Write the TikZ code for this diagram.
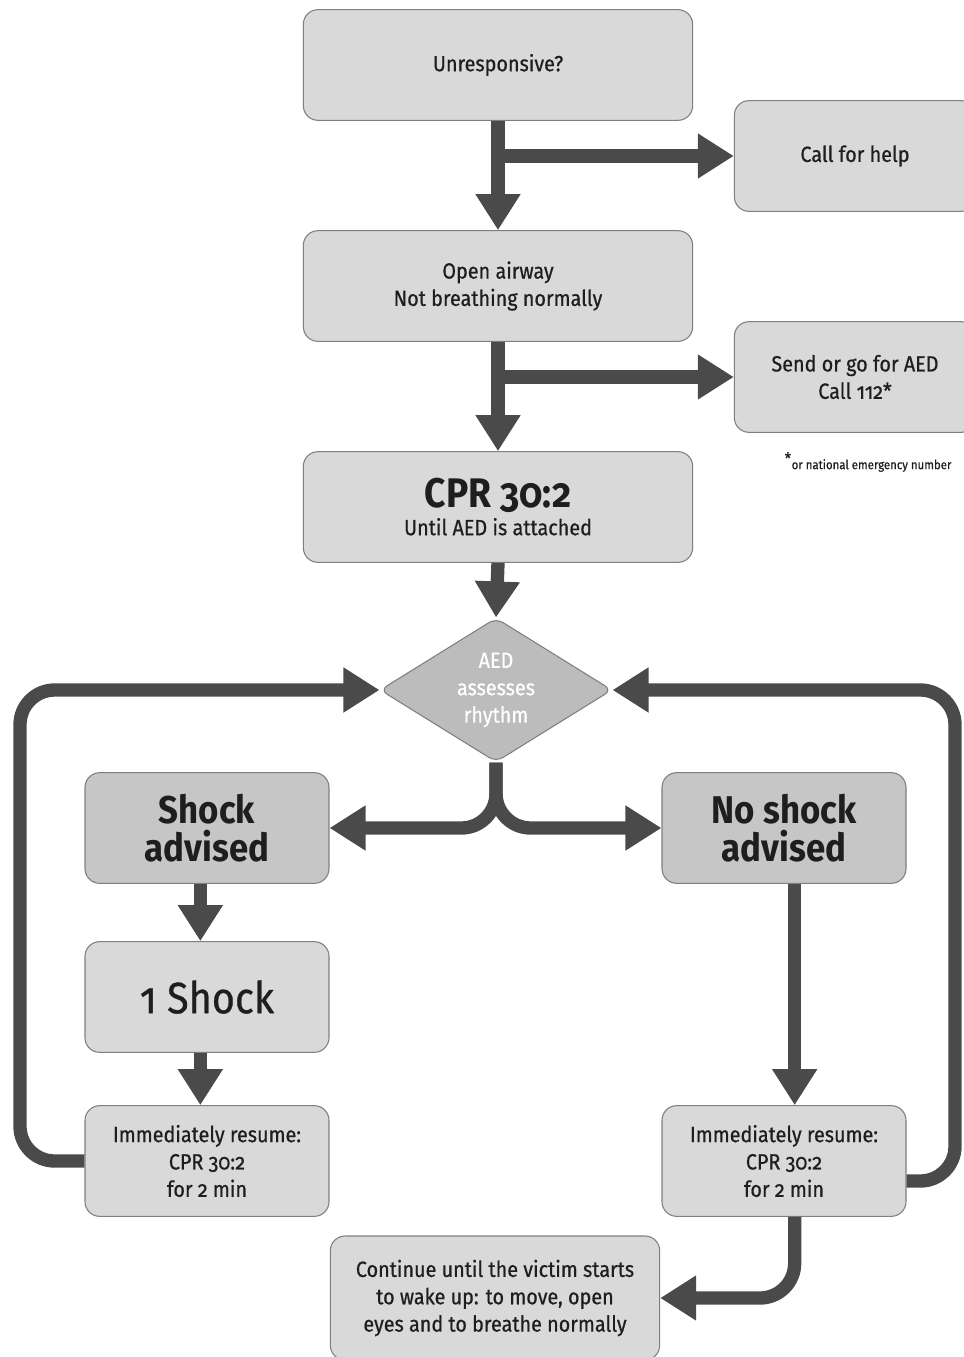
\documentclass[tikz,border=0pt]{standalone}
\usepackage{fontspec}
\setmainfont{Fira Sans}[Numbers=OldStyle, FakeStretch=0.9, UprightFeatures={FakeBold=0.6}]
\definecolor{Boxcol}{HTML}{D9D9D9}
\definecolor{Darkcol}{HTML}{C6C6C6}
\definecolor{Diacol}{HTML}{BCBCBC}
\definecolor{Edgecol}{HTML}{7F7F7F}
\definecolor{Arrowcol}{HTML}{4A4A4A}
\definecolor{Textcol}{HTML}{1E1E1E}
\usetikzlibrary{arrows.meta, positioning, shapes.geometric}
\tikzset{
    >={Triangle[width=32pt,length=27pt]},
    box/.style={draw=Edgecol, fill=Boxcol, line width=0.8pt, rounded corners=11pt,
        align=center, inner sep=0pt, minimum width=292pt, minimum height=83pt,
        text=Textcol, font=\fontsize{16.5}{20.5}\selectfont},
    sidebox/.style={box, minimum width=181pt},
    smallbox/.style={box, minimum width=183pt},
    bigtext/.style={font=\fontsize{29}{28}\selectfont\bfseries},
    decision/.style={diamond, aspect=1.6, draw=Edgecol, fill=Diacol, line width=0.8pt,
        rounded corners=6pt, minimum width=174pt, minimum height=108pt, inner sep=0pt,
        align=center, text=white, font=\fontsize{16.5}{20.5}\selectfont},
    flow/.style={->, line width=10pt, draw=Arrowcol, rounded corners=26pt}
}

\begin{document}
\begin{tikzpicture}[x=0.75pt, y=-0.75pt]
    \useasboundingbox (0,0) rectangle (964,1357);

    % Main column
    \node[box] (unresp) at (498,65) {Unresponsive?};
    \node[sidebox] (help) at (855,156) {Call for help};
    \node[box] (airway) at (498,286) {Open airway\\Not breathing normally};
    \node[sidebox] (aedcall) at (855,377) {Send or go for AED\\Call 112*};
    \node[anchor=west, text=Textcol, font=\fontsize{9.5}{10}\selectfont] (footnote) at (780,462)
        {\textsuperscript{\large *}or national emergency number};
    \node[box] (cpr) at (498,507)
        {{\fontsize{31}{30}\selectfont\bfseries CPR 30:2}\\Until AED is attached};
    \node[decision] (aed) at (496,690) {AED\\assesses\\rhythm};

    % Shock / no shock
    \node[smallbox, fill=Darkcol, bigtext] (shock) at (207,828) {Shock\\advised};
    \node[smallbox, fill=Darkcol, bigtext] (noshock) at (784,828) {No shock\\advised};
    \node[smallbox, font=\fontsize{33}{34}\selectfont] (oneshock) at (207,997) {1 Shock};
    \node[smallbox] (resumeL) at (207,1161) {Immediately resume:\\CPR 30:2\\for 2 min};
    \node[smallbox] (resumeR) at (784,1161) {Immediately resume:\\CPR 30:2\\for 2 min};
    \node[box, minimum width=247pt, minimum height=93pt] (goon) at (495,1298)
        {Continue until the victim starts\\to wake up: to move, open\\eyes and to breathe normally};

    % Loop corners
    \coordinate (loopL) at (20,690);
    \coordinate (loopR) at (955,690);

    % Connectors
    \draw[flow] (unresp.south) -- (airway.north);
    \draw[flow] (unresp.south |- help.west) -- (help.west);
    \draw[flow] (airway.south) -- (cpr.north);
    \draw[flow] (airway.south |- aedcall.west) -- (aedcall.west);
    \draw[flow] (cpr.south) -- (aed.north);
    \draw[flow] (aed.south) |- (shock.east);
    \draw[flow] (aed.south) |- (noshock.west);
    \draw[flow] ([xshift=-5pt]shock.south) -- ([xshift=-5pt]oneshock.north);
    \draw[flow] ([xshift=-5pt]oneshock.south) -- ([xshift=-5pt]resumeL.north);
    \draw[flow] ([xshift=8pt]noshock.south) -- ([xshift=8pt]resumeR.north);
    \draw[flow] (resumeL.west) -| (loopL) -- (aed.west);
    \draw[flow] ([yshift=-15pt]resumeR.east) -| (loopR) -- (aed.east);
    \draw[flow] ([xshift=8pt]resumeR.south) |- (goon.east);
\end{tikzpicture}
\end{document}
